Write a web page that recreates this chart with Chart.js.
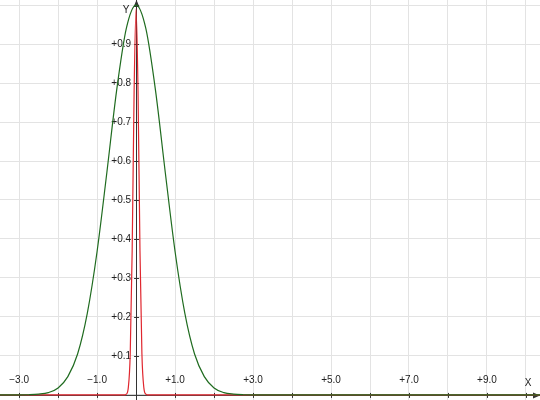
<!DOCTYPE html>
<html>
<head>
<meta charset="utf-8">
<script src="https://cdn.jsdelivr.net/npm/chart.js@4/dist/chart.umd.min.js"></script>
<style>
  body { margin: 0; background: #fff; }
  #chart { display: block; }
</style>
</head>
<body>
<canvas id="chart" width="540" height="400"></canvas>
<script>
// curve values
const greenX = [-3.5, -3.0, -2.75, -2.5, -2.25, -2.0, -1.75, -1.5, -1.25, -1.0, -0.75, -0.5, -0.25, 0,
  0.25, 0.5, 0.75, 1.0, 1.25, 1.5, 1.75, 2.0, 2.25, 2.5, 2.75, 3.0, 3.5, 10.4];
const greenY = [0, 0.0001, 0.0005, 0.002, 0.006, 0.018, 0.047, 0.105, 0.21, 0.368, 0.57, 0.78, 0.94, 1.0,
  0.94, 0.78, 0.57, 0.368, 0.21, 0.105, 0.047, 0.018, 0.006, 0.002, 0.0005, 0.0001, 0, 0];

const redX = [-3.5, -0.3, -0.25, -0.2, -0.15, -0.1, -0.05, 0, 0.05, 0.1, 0.15, 0.2, 0.25, 0.3, 10.4];
const redY = [0, 0, 0.002, 0.018, 0.105, 0.37, 0.78, 0.99, 0.78, 0.37, 0.105, 0.018, 0.002, 0, 0];

const xLabels = [-3, -1, 1, 3, 5, 7, 9];
const yLabels = [0.1, 0.2, 0.3, 0.4, 0.5, 0.6, 0.7, 0.8, 0.9];

const X_MIN = -3.49, X_MAX = 10.36;
const Y_MIN = -0.013, Y_MAX = 1.013;

function toPoints(xs, ys) {
  return xs.map((x, i) => ({ x: x, y: ys[i] }));
}

function fmt(v) {
  return (v < 0 ? '\u2212' : '+') + Math.abs(v).toFixed(1);
}

// axes through the origin, with arrows, ticks and labels
const axesPlugin = {
  id: 'axes',
  beforeDatasetsDraw(chart) {
    const ctx = chart.ctx;
    const xs = chart.scales.x, ys = chart.scales.y;
    const ox = xs.getPixelForValue(0), oy = ys.getPixelForValue(0);
    const area = chart.chartArea;
    ctx.save();
    ctx.strokeStyle = '#333';
    ctx.fillStyle = '#333';
    ctx.lineWidth = 1;
    // x axis
    ctx.beginPath();
    ctx.moveTo(area.left, oy + 0.5);
    ctx.lineTo(area.right, oy + 0.5);
    ctx.stroke();
    ctx.beginPath();
    ctx.moveTo(area.right, oy + 0.5);
    ctx.lineTo(area.right - 7, oy - 2.5);
    ctx.lineTo(area.right - 7, oy + 3.5);
    ctx.closePath();
    ctx.fill();
    // y axis
    ctx.beginPath();
    ctx.moveTo(Math.round(ox) + 0.5, area.bottom);
    ctx.lineTo(Math.round(ox) + 0.5, area.top);
    ctx.stroke();
    ctx.beginPath();
    ctx.moveTo(Math.round(ox) + 0.5, area.top);
    ctx.lineTo(Math.round(ox) - 2.5, area.top + 7);
    ctx.lineTo(Math.round(ox) + 3.5, area.top + 7);
    ctx.closePath();
    ctx.fill();
    // tick marks
    for (let v = -3; v <= 10; v++) {
      const px = Math.round(xs.getPixelForValue(v)) + 0.5;
      ctx.beginPath();
      ctx.moveTo(px, oy - 2);
      ctx.lineTo(px, oy + 3);
      ctx.stroke();
    }
    for (let i = 1; i <= 10; i++) {
      const py = Math.round(ys.getPixelForValue(i / 10)) + 0.5;
      ctx.beginPath();
      ctx.moveTo(ox - 2, py);
      ctx.lineTo(ox + 3, py);
      ctx.stroke();
    }
    // labels
    ctx.font = '10px "Liberation Sans", Arial, sans-serif';
    ctx.fillStyle = '#222';
    ctx.textBaseline = 'middle';
    ctx.textAlign = 'center';
    xLabels.forEach(v => {
      ctx.fillText(fmt(v), xs.getPixelForValue(v), oy - 15);
    });
    ctx.textAlign = 'right';
    yLabels.forEach(v => {
      ctx.fillText(fmt(v), ox - 5, ys.getPixelForValue(v));
    });
    ctx.textAlign = 'center';
    ctx.fillText('X', area.right - 12, oy - 12);
    ctx.fillText('Y', ox - 10, area.top + 10);
    ctx.restore();
  }
};

new Chart(document.getElementById('chart'), {
  type: 'scatter',
  data: {
    datasets: [
      {
        label: 'green',
        data: toPoints(greenX, greenY),
        showLine: true,
        borderColor: '#1f6b1f',
        borderWidth: 1.2,
        pointRadius: 0,
        cubicInterpolationMode: 'monotone',
        fill: false
      },
      {
        label: 'red',
        data: toPoints(redX, redY),
        showLine: true,
        borderColor: '#e0262e',
        borderWidth: 1.2,
        pointRadius: 0,
        cubicInterpolationMode: 'monotone',
        fill: false
      }
    ]
  },
  options: {
    responsive: false,
    animation: false,
    layout: { padding: 0 },
    plugins: {
      legend: { display: false },
      tooltip: { enabled: false }
    },
    scales: {
      x: {
        type: 'linear',
        min: X_MIN,
        max: X_MAX,
        afterBuildTicks: (s) => { s.ticks = []; for (let v = -3; v <= 10; v++) s.ticks.push({ value: v }); },
        ticks: { display: false },
        grid: { color: '#e3e3e3', drawTicks: false },
        border: { display: false }
      },
      y: {
        type: 'linear',
        min: Y_MIN,
        max: Y_MAX,
        afterBuildTicks: (s) => { s.ticks = []; for (let i = 0; i <= 10; i++) s.ticks.push({ value: i / 10 }); },
        ticks: { display: false },
        grid: { color: '#e3e3e3', drawTicks: false },
        border: { display: false }
      }
    }
  },
  plugins: [axesPlugin]
});
</script>
</body>
</html>
